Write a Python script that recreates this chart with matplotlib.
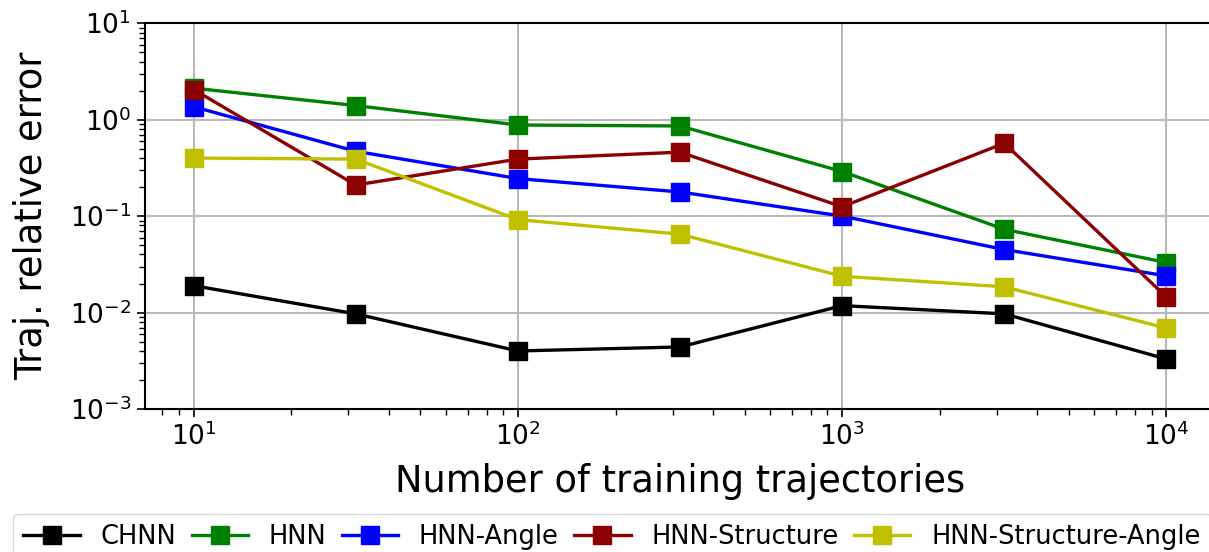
import numpy as np
import matplotlib.pyplot as plt

# training set sizes
n_traj = [10, 31.6, 100, 316, 1000, 3162, 10000]

# relative trajectory errors per model
err_chnn = [0.019, 0.0097, 0.0040, 0.0044, 0.0118, 0.0097, 0.0033]
err_hnn = [2.12, 1.40, 0.88, 0.86, 0.29, 0.073, 0.033]
err_hnn_angle = [1.36, 0.47, 0.245, 0.178, 0.100, 0.045, 0.024]
err_hnn_struct = [2.05, 0.21, 0.39, 0.46, 0.125, 0.57, 0.0145]
err_hnn_struct_angle = [0.40, 0.39, 0.092, 0.065, 0.0238, 0.0185, 0.0069]

labels = ['CHNN', 'HNN', 'HNN-Angle', 'HNN-Structure', 'HNN-Structure-Angle']
colors = ['k', 'g', 'b', '#8b0000', '#c0c000']

fig = plt.figure(figsize=(12.09, 5.52), dpi=100)
ax = fig.add_axes([0.12, 0.259, 0.885, 0.699])

series = [err_chnn, err_hnn, err_hnn_angle, err_hnn_struct, err_hnn_struct_angle]
for vals, lab, col in zip(series, labels, colors):
    ax.plot(n_traj, vals, '-s', color=col, label=lab, lw=2.4, ms=13)

ax.set_xscale('log')
ax.set_yscale('log')
ax.set_ylim(1e-3, 1e1)
ax.set_xlim(10 ** 0.85, 10 ** 4.15)
ax.grid(True, which='major', color='#b8b8b8', lw=1.5)
ax.set_axisbelow(True)

for s in ax.spines.values():
    s.set_linewidth(1.5)
ax.tick_params(which='major', labelsize=19, length=6, width=1.2, pad=4)
ax.tick_params(which='minor', length=4, width=1.0)

ax.set_xlabel('Number of training trajectories', fontsize=26.5, labelpad=8)
ax.set_ylabel('Traj. relative error', fontsize=26.5, labelpad=14)

# legend below the axes, runs past the right edge like the original
fig.legend(loc='upper left', bbox_to_anchor=(0.0108, 0.069), ncol=5,
           fontsize=18.5, handlelength=2.2, columnspacing=0.6,
           handletextpad=0.8, borderaxespad=0)

fig.savefig('out.png', dpi=100)
